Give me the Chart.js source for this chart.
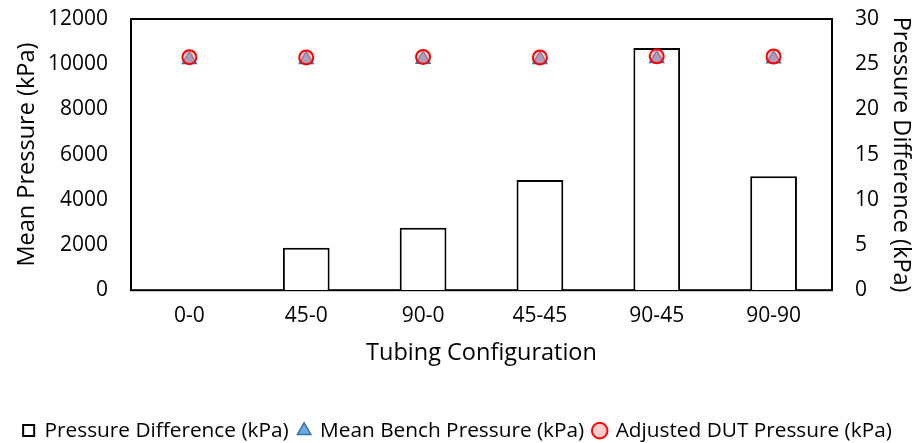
<!DOCTYPE html>
<html>
<head>
<meta charset="utf-8">
<title>Tubing Configuration Pressure</title>
<script src="https://cdn.jsdelivr.net/npm/chart.js@4.4.1/dist/chart.umd.min.js"></script>
<style>
  html, body { margin: 0; padding: 0; background: #fff; }
  canvas { display: block; }
</style>
</head>
<body>
<canvas id="pressureChart" width="915" height="443"></canvas>
<script>
// Tubing configurations tested
const configs = ['0-0', '45-0', '90-0', '45-45', '90-45', '90-90'];

// Pressure difference (kPa) - bars on the right axis
const pressureDiff = [0, 4.7, 6.9, 12.2, 26.8, 12.6];

// Mean bench pressure (kPa) - left axis
const benchPressure = [10210, 10210, 10220, 10210, 10250, 10240];

// Adjusted DUT pressure (kPa) - left axis
const dutPressure = [10310, 10300, 10320, 10300, 10350, 10340];

// Axis ticks
const leftTicks = [0, 2000, 4000, 6000, 8000, 10000, 12000];
const rightTicks = [0, 5, 10, 15, 20, 25, 30];

const FONT = "'Open Sans', sans-serif";
const tickFont = { family: FONT, size: 21 };
const titleFont = { family: FONT, size: 23.5 };

// Box around the plot area
const plotFrame = {
    id: 'plotFrame',
    beforeDatasetsDraw(chart) {
        const { ctx, chartArea: a } = chart;
        ctx.save();
        ctx.strokeStyle = '#000';
        ctx.lineWidth = 2;
        ctx.strokeRect(a.left, a.top, a.right - a.left, a.bottom - a.top);
        ctx.restore();
    }
};

// no visible grid; the hidden tick length just spaces the labels
const hiddenGrid = { display: false, drawTicks: true, tickLength: 20 };

const ctx = document.getElementById('pressureChart').getContext('2d');
new Chart(ctx, {
    type: 'bar',
    data: {
        labels: configs,
        datasets: [
            {
                type: 'bar',
                label: 'Pressure Difference (kPa)',
                data: pressureDiff,
                yAxisID: 'y1',
                backgroundColor: '#fff',
                borderColor: '#000',
                borderWidth: 2,
                categoryPercentage: 1,
                barPercentage: 0.4,
                pointStyle: 'rect',
                order: 3
            },
            {
                type: 'line',
                label: 'Mean Bench Pressure (kPa)',
                data: benchPressure,
                yAxisID: 'y',
                showLine: false,
                pointStyle: 'triangle',
                pointRadius: 8,
                backgroundColor: '#6FA8DC',
                borderColor: '#2E75B6',
                borderWidth: 1.5,
                order: 2
            },
            {
                type: 'line',
                label: 'Adjusted DUT Pressure (kPa)',
                data: dutPressure,
                yAxisID: 'y',
                showLine: false,
                pointStyle: 'circle',
                pointRadius: 7,
                backgroundColor: 'rgba(255, 140, 140, 0.45)',
                borderColor: '#FF0000',
                borderWidth: 2,
                order: 1
            }
        ]
    },
    options: {
        responsive: false,
        animation: false,
        layout: {
            padding: { top: 19, left: 0, right: 0, bottom: -8 }
        },
        plugins: {
            tooltip: { enabled: false },
            legend: {
                position: 'bottom',
                labels: {
                    usePointStyle: true,
                    boxHeight: 11,
                    boxWidth: 11,
                    padding: 10,
                    color: '#000',
                    font: { family: FONT, size: 20.8 },
                    sort: (a, b) => a.datasetIndex - b.datasetIndex
                }
            }
        },
        scales: {
            x: {
                grid: { display: false, drawTicks: false },
                border: { display: false },
                ticks: { color: '#000', font: tickFont, padding: 13 },
                title: {
                    display: true,
                    text: 'Tubing Configuration',
                    color: '#000',
                    font: titleFont,
                    padding: { top: 0, bottom: 43 }
                },
                afterFit(scale) { scale.height = 120; }
            },
            y: {
                position: 'left',
                min: leftTicks[0],
                max: leftTicks[leftTicks.length - 1],
                grid: hiddenGrid,
                border: { display: false },
                ticks: {
                    stepSize: leftTicks[1] - leftTicks[0],
                    callback: v => String(v),
                    color: '#000',
                    font: tickFont,
                    padding: 3
                },
                title: {
                    display: true,
                    text: 'Mean Pressure (kPa)',
                    color: '#000',
                    font: titleFont,
                    padding: { top: 13, bottom: 0 }
                },
                afterFit(scale) { scale.width = 131; }
            },
            y1: {
                position: 'right',
                min: rightTicks[0],
                max: rightTicks[rightTicks.length - 1],
                grid: hiddenGrid,
                border: { display: false },
                ticks: {
                    stepSize: rightTicks[1] - rightTicks[0],
                    callback: v => String(v),
                    color: '#000',
                    font: tickFont,
                    padding: 3
                },
                title: {
                    display: true,
                    text: 'Pressure Difference (kPa)',
                    color: '#000',
                    font: titleFont,
                    padding: { top: 0, bottom: 0 }
                },
                afterFit(scale) { scale.width = 83; }
            }
        }
    },
    plugins: [plotFrame]
});
</script>
</body>
</html>
